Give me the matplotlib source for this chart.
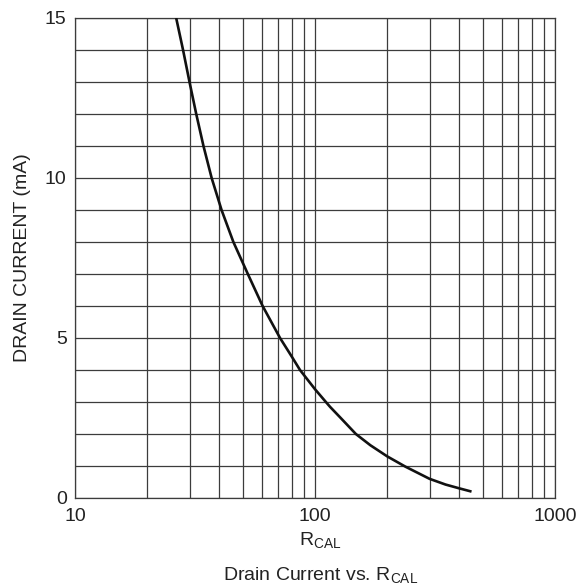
import matplotlib
matplotlib.use("Agg")
import matplotlib.pyplot as plt
from matplotlib.ticker import FixedLocator, NullFormatter, FixedFormatter

plt.rcParams['font.family'] = ['Liberation Sans', 'DejaVu Sans']
plt.rcParams['mathtext.fontset'] = 'custom'
plt.rcParams['mathtext.rm'] = 'Liberation Sans'
plt.rcParams['mathtext.it'] = 'Liberation Sans'

# Data
r_cal = [26.4, 28.2, 30.0, 32.0, 34.3, 37.1, 40.8, 45.7, 52.5, 60.5,
         71.5, 80.0, 86.6, 100, 111, 115.5, 128, 148, 170, 200, 238, 300,
         350, 400, 449]
drain_ma = [15.0, 14.0, 13.0, 12.0, 11.0, 10.0, 9.0, 8.0, 7.0, 6.0,
            5.0, 4.42, 4.0, 3.4, 3.0, 2.85, 2.5, 2.0, 1.65, 1.3, 0.98, 0.6,
            0.42, 0.3, 0.2]

x_major = [10, 100, 1000]
x_labels = ['10', '100', '1000']
x_minor = [20, 30, 40, 50, 60, 70, 80, 90, 200, 300, 400, 500, 600, 700, 800, 900]
y_major = [0, 5, 10, 15]
y_labels = ['0', '5', '10', '15']
y_minor = [1, 2, 3, 4, 6, 7, 8, 9, 11, 12, 13, 14]

W, H = 579, 587
fig = plt.figure(figsize=(W / 100, H / 100), dpi=100)
ax = fig.add_axes([75 / W, 1 - 498 / H, 480 / W, 480 / H])

ax.plot(r_cal, drain_ma, color='#111111', lw=1.9, solid_joinstyle='round',
        solid_capstyle='butt', zorder=3)

ax.set_xscale('log')
ax.set_xlim(10, 1000)
ax.set_ylim(0, 15)

ax.xaxis.set_major_locator(FixedLocator(x_major))
ax.xaxis.set_major_formatter(FixedFormatter(x_labels))
ax.xaxis.set_minor_locator(FixedLocator(x_minor))
ax.xaxis.set_minor_formatter(NullFormatter())
ax.yaxis.set_major_locator(FixedLocator(y_major))
ax.yaxis.set_major_formatter(FixedFormatter(y_labels))
ax.yaxis.set_minor_locator(FixedLocator(y_minor))

grid_col = '#3c3c3c'
ax.grid(True, which='both', color=grid_col, lw=0.9)
for s in ax.spines.values():
    s.set_color(grid_col)
    s.set_linewidth(0.9)

ax.tick_params(axis='both', which='both', length=0, labelsize=14, colors='#222222')
ax.tick_params(axis='x', pad=7)
ax.tick_params(axis='y', pad=6)

ax.set_ylabel('DRAIN CURRENT (mA)', fontsize=14, color='#222222', labelpad=10)

fig.text(320 / W, 42 / H, r'$\mathrm{R_{CAL}}$', fontsize=14, ha='center',
         va='baseline', color='#222222')
fig.text(321 / W, 7 / H, r'Drain Current vs. $\mathrm{R_{CAL}}$', fontsize=14,
         ha='center', va='baseline', color='#222222')

fig.savefig('out.png', dpi=100)
